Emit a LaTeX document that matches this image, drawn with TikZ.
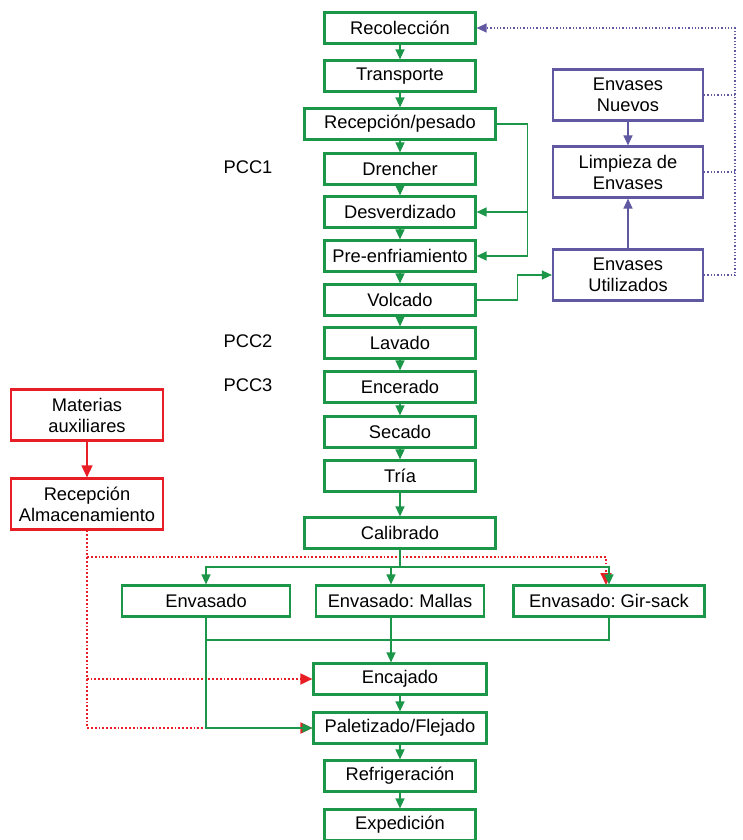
\documentclass[tikz,border=0pt]{standalone}
\usepackage{fontspec}
\setmainfont{Liberation Sans}
\usetikzlibrary{arrows.meta,positioning}
\definecolor{flowgreen}{RGB}{28,150,72}
\definecolor{flowpurple}{RGB}{96,88,160}
\definecolor{flowred}{RGB}{232,30,38}
\frenchspacing

\begin{document}
\begin{tikzpicture}[x=1pt,y=-1pt,
    font=\fontsize{18.3}{21}\selectfont,
    procbox/.style={draw=flowgreen,line width=2.2pt,minimum width=151pt,minimum height=31pt,inner sep=0pt,align=center},
    packbox/.style={draw=flowpurple,line width=2.2pt,minimum width=150pt,minimum height=51pt,inner sep=0pt,align=center},
    auxbox/.style={draw=flowred,line width=2.2pt,minimum width=152pt,minimum height=51pt,inner sep=0pt,align=center},
    gline/.style={draw=flowgreen,line width=1.3pt},
    garrow/.style={gline,-{Triangle[length=10pt,width=9pt]}},
    parrow/.style={draw=flowpurple,line width=1.3pt,-{Triangle[length=10pt,width=9pt]}},
    pdot/.style={draw=flowpurple,line width=1.3pt,dotted},
    rdot/.style={draw=flowred,line width=1.8pt,dotted,-{Triangle[length=12pt,width=11pt]}}]
\useasboundingbox (0,0) rectangle (742,840);

% Define the main process column
\node[procbox] (recol) at (400,28) {Recolección};
\node[procbox] (transp) at (400,76) {Transporte};
\node[procbox,minimum width=191pt] (recep) at (400,124) {Recepción/pesado};
\node[procbox] (drench) at (400,169) {Drencher};
\node[procbox] (desv) at (400,212) {Desverdizado};
\node[procbox] (prenf) at (400,256) {Pre-enfriamiento};
\node[procbox] (volc) at (400,300) {Volcado};
\node[procbox] (lav) at (400,343) {Lavado};
\node[procbox] (encer) at (400,387) {Encerado};
\node[procbox] (sec) at (400,432) {Secado};
\node[procbox] (tria) at (400,476) {Tría};
\node[procbox,minimum width=191pt] (calib) at (400,533) {Calibrado};
\node[procbox,minimum width=168pt] (envA) at (206,601) {Envasado};
\node[procbox,minimum width=168pt] (envB) at (400,601) {Envasado: Mallas};
\node[procbox,minimum width=191pt] (envC) at (609,601) {Envasado: Gir-sack};
\node[procbox,minimum width=173pt] (encaj) at (400,679) {Encajado};
\node[procbox,minimum width=173pt] (palet) at (400,728) {Paletizado/Flejado};
\node[procbox] (refrig) at (400,776) {Refrigeración};
\node[procbox] (exped) at (400,825) {Expedición};

% Critical control points
\node (pcc1) at (248,167) {PCC1};
\node (pcc2) at (248,341) {PCC2};
\node (pcc3) at (248,385) {PCC3};

% Packaging boxes
\node[packbox] (nuevos) at (628,95) {Envases\\Nuevos};
\node[packbox] (limp) at (628,172) {Limpieza de\\Envases};
\node[packbox] (util) at (628,275) {Envases\\Utilizados};

% Auxiliary materials
\node[auxbox] (mat) at (87,415) {Materias\\auxiliares};
\node[auxbox] (almac) at (87,504) {Recepción\\Almacenamiento};

\coordinate (ret) at (735,28);
\coordinate (split) at (400,567);
\coordinate (join) at (390,640);
\coordinate (mallin) at ([xshift=-9pt]envB.north);
\coordinate (mallout) at ([xshift=-9pt]envB.south);

% Red dotted supply lines
\draw[rdot] (almac.south) |- (encaj.west);
\draw[rdot] (almac.south) |- (palet.west);
\draw[rdot] (almac.south) -- (almac.south |- 0,557) -| (606,585);
\draw[draw=flowred,line width=1.5pt,-{Triangle[length=12pt,width=11pt]}] (mat) -- (almac);

% Main flow
\draw[garrow] (recol) -- (transp);
\draw[garrow] (transp) -- (recep);
\draw[garrow] (recep) -- (drench);
\draw[garrow] (drench) -- (desv);
\draw[garrow] (desv) -- (prenf);
\draw[garrow] (prenf) -- (volc);
\draw[garrow] (volc) -- (lav);
\draw[garrow] (lav) -- (encer);
\draw[garrow] (encer) -- (sec);
\draw[garrow] (sec) -- (tria);
\draw[garrow] (tria) -- (calib);
\draw[garrow] (encaj) -- (palet);
\draw[garrow] (palet) -- (refrig);
\draw[garrow] (refrig) -- (exped);

% Bypass from reception
\draw[gline] (recep.east) -- ++(31,0) coordinate (rb);
\draw[garrow] (rb) |- (desv.east);
\draw[garrow] (rb) |- (prenf.east);
\draw[garrow] (volc.east) -- ++(41,0) |- (util.west);

% Split and join of the packing lines
\draw[gline] (calib.south) -- (split);
\draw[garrow] (split) -| (envA.north);
\draw[garrow] (split) -| (mallin);
\draw[garrow] (split) -| (envC.north);
\draw[gline] (envC.south) |- (envA.south |- join);
\draw[garrow] (mallout) -- (mallout |- encaj.north);
\draw[garrow] (envA.south) |- (palet.west);

% Packaging loop
\draw[parrow] (nuevos) -- (limp);
\draw[parrow] (util) -- (limp);
\draw[pdot] (nuevos.east) -- (nuevos.east -| ret);
\draw[pdot] (limp.east) -- (limp.east -| ret);
\draw[pdot,-{Triangle[length=10pt,width=9pt]}] (util.east) -| (ret) -- (recol.east);
\end{tikzpicture}
\end{document}
